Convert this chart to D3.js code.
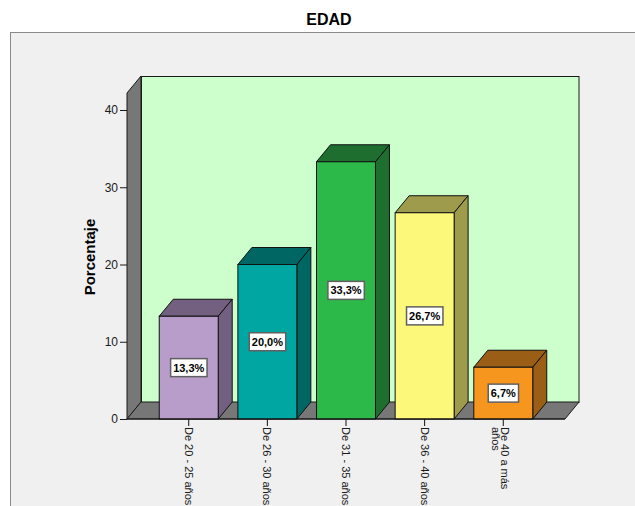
<!DOCTYPE html>
<html>
<head>
<meta charset="utf-8">
<script src="https://cdn.jsdelivr.net/npm/d3@7"></script>
<style>
  html, body { margin: 0; padding: 0; background: #ffffff; }
  svg { display: block; font-family: Arial, "Liberation Sans", sans-serif; }
</style>
</head>
<body>
<svg id="chart" width="635" height="506"></svg>
<script>
// Age groups and their share of respondents (%)
const categories = ["De 20 - 25 años", "De 26 - 30 años", "De 31 - 35 años", "De 36 - 40 años", "De 40 a más años"];
const values = [13.3, 20.0, 33.3, 26.7, 6.7];
const yTicks = [0, 10, 20, 30, 40];
const frontColors = ["#b89cca", "#00a6a1", "#2db84a", "#fcf87a", "#f7961e"];
const shadeColors = ["#735f7f", "#006663", "#1e6e2f", "#9f9b4d", "#9a5e16"];

const svg = d3.select("#chart");
const W = 635, H = 506;

// plot geometry (front plane) and 3D depth offset
const left = 127, right = 565, base = 419;
const dx = 14, dy = 17;

const y = d3.scaleLinear().domain([0, 40]).range([base, 110]);
const yTop = 42.2;
const x = d3.scaleBand().domain(categories).range([left, right])
  .paddingInner(0.25).paddingOuter(0.41);

const fmt = d3.formatLocale({ decimal: ",", thousands: ".", grouping: [3], currency: ["", ""] }).format(".1f");

// outer chart frame
svg.append("rect").attr("x", 10.5).attr("y", 32.5).attr("width", W).attr("height", H)
  .attr("fill", "#f0f0f0").attr("stroke", "#8a8a8a").attr("stroke-width", 1);

// title
svg.append("text").attr("x", 329).attr("y", 25).attr("text-anchor", "middle")
  .attr("font-size", 16).attr("font-weight", "bold").attr("fill", "#000").text("EDAD");

const g = svg.append("g");
const pts = a => a.map(p => p.join(",")).join(" ");

// back wall
g.append("rect")
  .attr("x", left + dx + 0.5).attr("y", y(yTop) - dy + 0.5)
  .attr("width", right - left - 0.5).attr("height", base - y(yTop))
  .attr("fill", "#ccffcc").attr("stroke", "#1a1a1a").attr("stroke-width", 1);

// left side wall
g.append("polygon")
  .attr("points", pts([[left, y(yTop)], [left + dx, y(yTop) - dy], [left + dx, base - dy], [left, base]]))
  .attr("fill", "#777777").attr("stroke", "#1a1a1a").attr("stroke-width", 1);

// floor
g.append("polygon")
  .attr("points", pts([[left, base], [left + dx, base - dy], [right + dx, base - dy], [right, base]]))
  .attr("fill", "#777777").attr("stroke", "#1a1a1a").attr("stroke-width", 1);

// y axis
const yAxis = d3.axisLeft(y).tickValues(yTicks).tickSize(7).tickPadding(2).tickFormat(d3.format("d"));
const ya = svg.append("g").attr("transform", `translate(${left},0)`).call(yAxis);
ya.select(".domain").remove();
ya.selectAll("line").attr("stroke", "#1a1a1a");
ya.selectAll("text").attr("font-size", 12).attr("fill", "#1a1a1a").attr("font-family", "Arial, 'Liberation Sans', sans-serif");

// y axis title
svg.append("text")
  .attr("transform", `translate(95,257) rotate(-90)`)
  .attr("text-anchor", "middle").attr("font-size", 15).attr("font-weight", "bold")
  .attr("fill", "#000").text("Porcentaje");

// bars
const bars = g.selectAll("g.bar").data(categories).join("g").attr("class", "bar");
bars.each(function (c, i) {
  const b = d3.select(this);
  const x0 = x(c), x1 = x(c) + x.bandwidth();
  const yt = y(values[i]);
  // top face
  b.append("polygon")
    .attr("points", pts([[x0, yt], [x0 + dx, yt - dy], [x1 + dx, yt - dy], [x1, yt]]))
    .attr("fill", shadeColors[i]).attr("stroke", "#111").attr("stroke-width", 1).attr("stroke-linejoin", "round");
  // side face
  b.append("polygon")
    .attr("points", pts([[x1, yt], [x1 + dx, yt - dy], [x1 + dx, base - dy], [x1, base]]))
    .attr("fill", shadeColors[i]).attr("stroke", "#111").attr("stroke-width", 1).attr("stroke-linejoin", "round");
  // front face
  b.append("rect")
    .attr("x", x0).attr("y", yt).attr("width", x.bandwidth()).attr("height", base - yt)
    .attr("fill", frontColors[i]).attr("stroke", "#111").attr("stroke-width", 1);
});

// bottom axis line and category ticks
svg.append("line").attr("x1", left).attr("x2", right).attr("y1", base).attr("y2", base)
  .attr("stroke", "#111").attr("stroke-width", 1);
svg.selectAll("line.xtick").data(categories).join("line").attr("class", "xtick")
  .attr("x1", c => x(c) + x.bandwidth() / 2).attr("x2", c => x(c) + x.bandwidth() / 2)
  .attr("y1", base).attr("y2", base + 7).attr("stroke", "#111");

// rotated category labels, wrapped when longer than the available length
const maxLen = 80;
svg.selectAll("g.xlabel").data(categories).join("g").attr("class", "xlabel")
  .attr("transform", c => `translate(${x(c) + x.bandwidth() / 2},${base + 8}) rotate(90)`)
  .each(function (c) {
    const t = d3.select(this).append("text").attr("font-size", 11).attr("fill", "#1a1a1a");
    const words = c.split(" ");
    let lines = [], cur = [];
    const probe = t.append("tspan");
    words.forEach(w => {
      const test = cur.concat(w).join(" ");
      probe.text(test);
      if (probe.node().getComputedTextLength() > maxLen && cur.length) {
        lines.push(cur.join(" "));
        cur = [w];
      } else cur.push(w);
    });
    lines.push(cur.join(" "));
    probe.remove();
    const lh = 9.5;
    const shift = lines.length > 1 ? 2 : 0;
    lines.forEach((l, k) => {
      t.append("tspan").attr("x", 0).attr("y", 4 + k * lh - shift).text(l);
    });
  });

// value labels
const lab = svg.selectAll("g.vlabel").data(categories).join("g").attr("class", "vlabel")
  .attr("transform", (c, i) => `translate(${x(c) + x.bandwidth() / 2},${(y(values[i]) + base) / 2})`);
lab.each(function (c, i) {
  const gg = d3.select(this);
  const t = gg.append("text").attr("text-anchor", "middle").attr("dy", "0.36em")
    .attr("font-size", 11).attr("font-weight", "bold").attr("fill", "#000")
    .text(fmt(values[i]) + "%");
  const bb = t.node().getBBox();
  gg.insert("rect", "text")
    .attr("x", bb.x - 2.5).attr("y", -9).attr("width", bb.width + 5).attr("height", 18)
    .attr("fill", "#ffffff").attr("stroke", "#606060").attr("stroke-width", 1.5);
});
</script>
</body>
</html>
